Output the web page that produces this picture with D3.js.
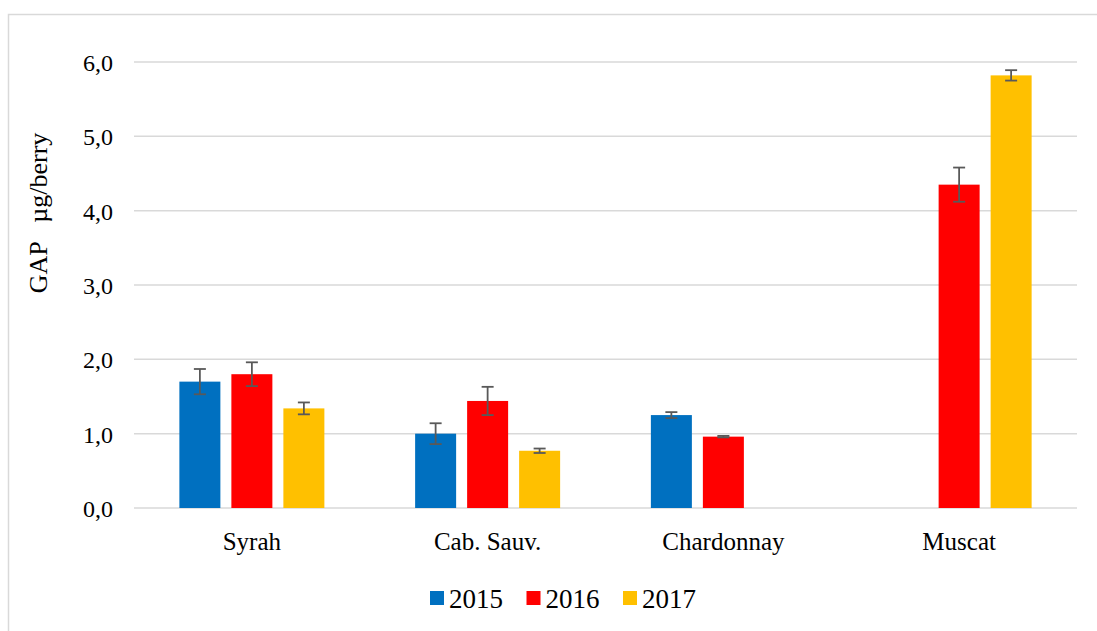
<!DOCTYPE html>
<html>
<head>
<meta charset="utf-8">
<script src="https://cdn.jsdelivr.net/npm/d3@7"></script>
</head>
<body style="margin:0">
<div id="chart"></div>
<script>
"use strict"

// dados
var cultivares = ["Syrah", "Cab. Sauv.", "Chardonnay", "Muscat"];
var anos = ["2015", "2016", "2017"];
var valores2015 = [1.70, 1.00, 1.25, null];
var valores2016 = [1.80, 1.44, 0.96, 4.35];
var valores2017 = [1.34, 0.77, null, 5.82];
var erro2015 = [0.17, 0.14, 0.04, null];
var erro2016 = [0.16, 0.19, 0.01, 0.23];
var erro2017 = [0.08, 0.03, null, 0.07];
var ticksY = [0, 1, 2, 3, 4, 5, 6];

var cores = {"2015": "#0070C0", "2016": "#FF0000", "2017": "#FFC000"};
var fonte = "'Liberation Serif'";

var largura = 1097, altura = 631;
var margin = {top: 62, right: 20, bottom: 123, left: 134};

var svg = d3.select("#chart").append("svg")
  .attr("width", largura)
  .attr("height", altura);

// moldura
svg.append("path")
  .attr("d", "M8.5,631 L8.5,14.5 L1097,14.5")
  .attr("fill", "none")
  .attr("stroke", "#d9d9d9")
  .attr("stroke-width", 1.5);

var x = d3.scaleBand()
  .domain(cultivares)
  .range([margin.left, largura - margin.right]);

var larguraGrupo = 145;
var x1 = d3.scaleBand()
  .domain(anos)
  .range([(x.bandwidth() - larguraGrupo) / 2, (x.bandwidth() + larguraGrupo) / 2])
  .paddingInner(11 / 52);

var y = d3.scaleLinear()
  .domain([0, 6])
  .range([altura - margin.bottom, margin.top]);

// grade
svg.append("g").selectAll("line")
  .data(ticksY)
  .enter().append("line")
    .attr("x1", margin.left)
    .attr("x2", largura - margin.right)
    .attr("y1", d => y(d))
    .attr("y2", d => y(d))
    .attr("stroke", "#d9d9d9")
    .attr("stroke-width", 1.5);

// eixo y
var eixoY = svg.append("g")
  .attr("transform", "translate(" + margin.left + ",0)")
  .call(d3.axisLeft(y).tickValues(ticksY).tickSize(0).tickPadding(21)
    .tickFormat(d => d3.format(".1f")(d).replace(".", ",")));
eixoY.attr("font-family", fonte).attr("font-size", 24);
eixoY.select(".domain").remove();
eixoY.selectAll("text")
  .style("font-family", fonte)
  .attr("fill", "#000")
  .attr("dy", "0.35em");

// eixo x
var eixoX = svg.append("g")
  .attr("transform", "translate(0," + y(0) + ")")
  .call(d3.axisBottom(x).tickSize(0).tickPadding(24));
eixoX.attr("font-family", fonte).attr("font-size", 25);
eixoX.select(".domain").remove();
eixoX.selectAll("text")
  .style("font-family", fonte)
  .attr("fill", "#000")
  .attr("dy", "0.71em");

// titulo eixo y
svg.append("text")
  .attr("transform", "translate(47,213) rotate(-90)")
  .attr("text-anchor", "middle")
  .style("font-family", fonte)
  .style("font-size", "26px")
  .style("white-space", "pre")
  .text("GAP   \u00b5g/berry");

// dados em linhas
var series = [valores2015, valores2016, valores2017];
var erros = [erro2015, erro2016, erro2017];
var linhas = [];
anos.forEach(function(ano, i) {
  cultivares.forEach(function(c, j) {
    if (series[i][j] != null) {
      linhas.push({ano: ano, cultivar: c, valor: series[i][j], erro: erros[i][j]});
    }
  });
});

// barras
svg.append("g").selectAll("rect")
  .data(linhas)
  .enter().append("rect")
    .attr("x", d => x(d.cultivar) + x1(d.ano))
    .attr("y", d => y(d.valor))
    .attr("width", x1.bandwidth())
    .attr("height", d => y(0) - y(d.valor))
    .attr("fill", d => cores[d.ano]);

// barras de erro
var gErro = svg.append("g")
  .attr("stroke", "#595959")
  .attr("stroke-width", 1.8)
  .attr("fill", "none");
var cap = 6;
linhas.filter(d => d.erro != null).forEach(function(d) {
  var cx = x(d.cultivar) + x1(d.ano) + x1.bandwidth() / 2;
  var yTopo = y(d.valor + d.erro), yBase = y(d.valor - d.erro);
  gErro.append("line").attr("x1", cx).attr("x2", cx).attr("y1", yTopo).attr("y2", yBase);
  gErro.append("line").attr("x1", cx - cap).attr("x2", cx + cap).attr("y1", yTopo).attr("y2", yTopo);
  gErro.append("line").attr("x1", cx - cap).attr("x2", cx + cap).attr("y1", yBase).attr("y2", yBase);
});

// legenda
var legenda = svg.append("g").selectAll("g")
  .data(anos)
  .enter().append("g")
    .attr("transform", (d, i) => "translate(" + (430 + i * 96.5) + ",591)");
legenda.append("rect")
  .attr("width", 14)
  .attr("height", 14)
  .attr("fill", d => cores[d]);
legenda.append("text")
  .attr("x", 19)
  .attr("y", 17)
  .style("font-family", fonte)
  .style("font-size", "27px")
  .text(d => d);
</script>
</body>
</html>
